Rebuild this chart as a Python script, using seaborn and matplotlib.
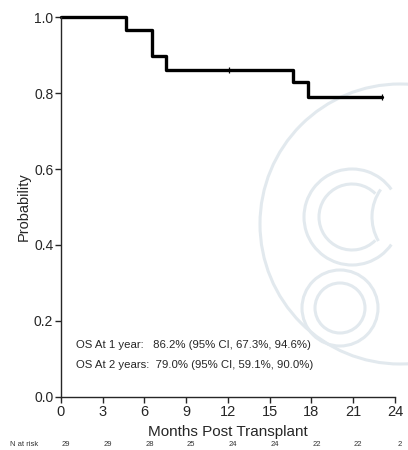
import matplotlib
matplotlib.use("Agg")
import matplotlib.pyplot as plt
import seaborn as sns
import pandas as pd
from matplotlib.patches import Arc, Circle

# Data
months = [0, 4.67, 6.54, 7.54, 16.67, 17.75, 23.1]
survival = [1.0, 0.966, 0.897, 0.862, 0.828, 0.790, 0.790]
censor_months = [12.07, 23.1]
censor_surv = [0.862, 0.790]
risk_months = [0, 3, 6, 9, 12, 15, 18, 21, 24]
at_risk = [29, 29, 28, 25, 24, 24, 22, 22, 2]
x_ticks = [0, 3, 6, 9, 12, 15, 18, 21, 24]
y_ticks = [0.0, 0.2, 0.4, 0.6, 0.8, 1.0]
annotations = ["OS At 1 year:   86.2% (95% CI, 67.3%, 94.6%)",
               "OS At 2 years:  79.0% (95% CI, 59.1%, 90.0%)"]

sns.set_style("ticks")
plt.rcParams['font.family'] = ['Liberation Sans', 'DejaVu Sans']

fig = plt.figure(figsize=(4.08, 4.5), dpi=100)

# faint watermark in a background pixel-space axes
bg = fig.add_axes([0, 0, 1, 1], zorder=0)
bg.set_xlim(0, 408)
bg.set_ylim(450, 0)
bg.axis("off")
wm = "#e2e9ee"
bg.add_patch(Circle((400, 224), 140, fill=False, ec=wm, lw=2.2))
bg.add_patch(Arc((352, 217), 96, 96, theta1=35, theta2=325, color=wm, lw=2.2))
bg.add_patch(Arc((352, 217), 66, 66, theta1=45, theta2=315, color=wm, lw=2.2))
bg.add_patch(Circle((340, 308), 38, fill=False, ec=wm, lw=2.2))
bg.add_patch(Circle((340, 308), 25, fill=False, ec=wm, lw=2.2))
bg.add_patch(Arc((420, 217), 96, 96, theta1=150, theta2=215, color=wm, lw=2.2))

ax = fig.add_axes([0.1495, 0.118, 0.8185, 0.844], zorder=1)
ax.patch.set_alpha(0)

df = pd.DataFrame({"Months": months, "Survival": survival})
sns.lineplot(data=df, x="Months", y="Survival", drawstyle="steps-post",
             color="black", lw=2.4, ax=ax, clip_on=False)
ax.plot(censor_months, censor_surv, marker="|", ms=5, mew=0.9, ls="none",
        color="black", clip_on=False)

ax.set_xlim(0, 24)
ax.set_ylim(0, 1)
ax.set_xticks(x_ticks)
ax.set_xticklabels([str(t) for t in x_ticks], fontsize=10.5)
ax.set_yticks(y_ticks)
ax.set_yticklabels([f"{t:.1f}" for t in y_ticks], fontsize=10)
ax.tick_params(axis="both", direction="out", length=4, width=1, pad=1.5)
ax.set_xlabel("Months Post Transplant", fontsize=11, labelpad=4.5)
ax.set_ylabel("Probability", fontsize=10.5, labelpad=2)
for s in ["top", "right"]:
    ax.spines[s].set_visible(False)
for s in ["left", "bottom"]:
    ax.spines[s].set_linewidth(1.0)

ax.text(1.05, 0.128, annotations[0], fontsize=8.2, transform=ax.transData)
ax.text(1.05, 0.077, annotations[1], fontsize=8.2, transform=ax.transData)

# Number at risk row
row_y = 1 - 445 / 450
fig.text(10 / 408, row_y, "N at risk", fontsize=5.5, va="center", ha="left",
         color="#333333")
for m, n in zip(risk_months, at_risk):
    xd = ax.transData.transform((m, 0))[0]
    xf = fig.transFigure.inverted().transform((xd + 5, 0))[0]
    fig.text(xf, row_y, str(n), fontsize=5.5, va="center", ha="center",
             color="#333333")

fig.savefig("out.png", dpi=100)
